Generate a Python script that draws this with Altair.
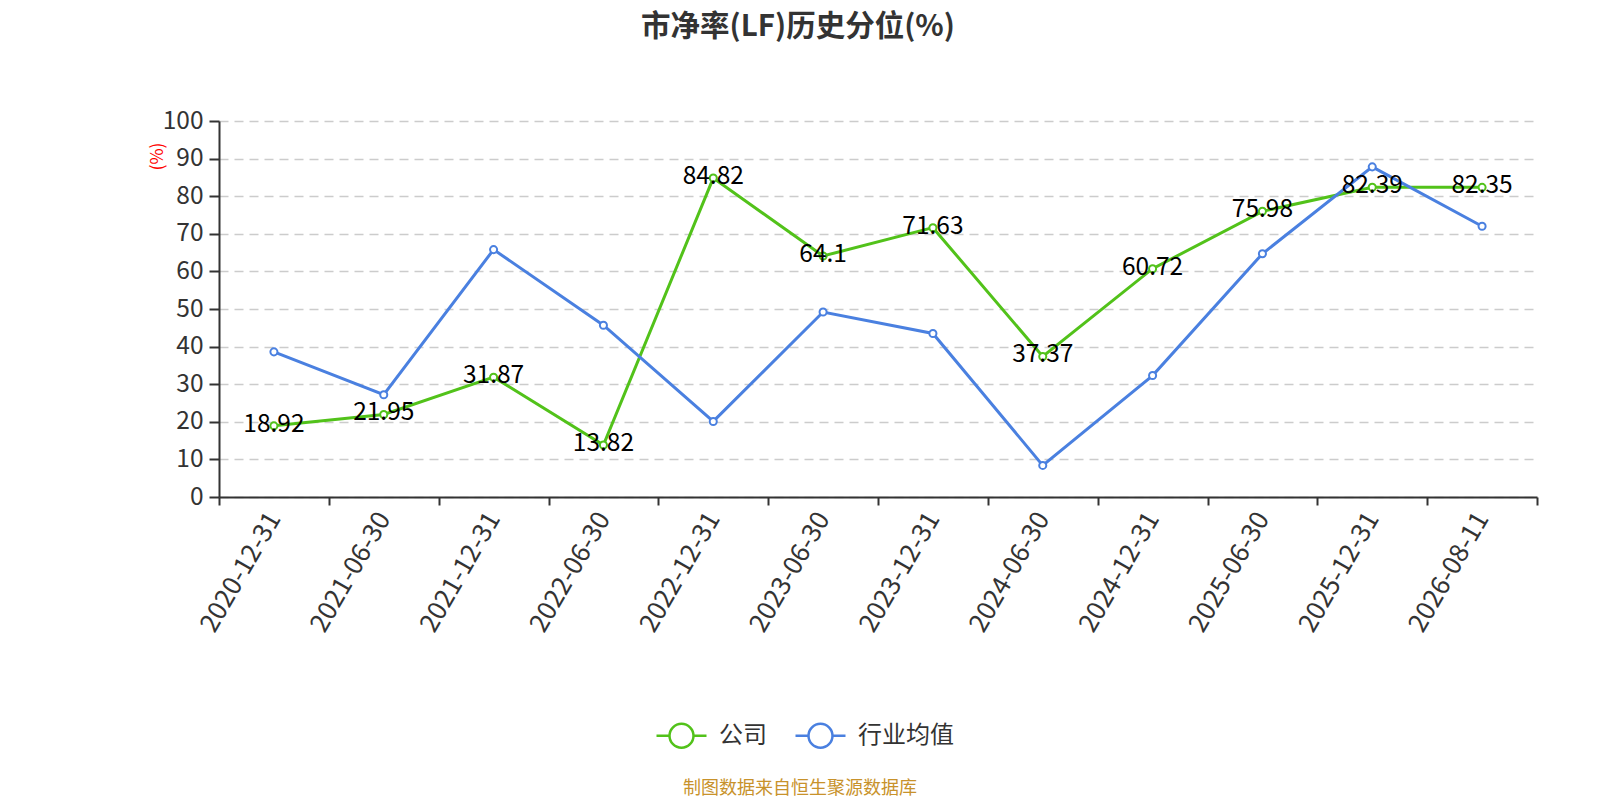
import altair as alt
import pandas as pd

dates = ["2020-12-31", "2021-06-30", "2021-12-31", "2022-06-30", "2022-12-31", "2023-06-30",
         "2023-12-31", "2024-06-30", "2024-12-31", "2025-06-30", "2025-12-31", "2026-08-11"]
company = [18.92, 21.95, 31.87, 13.82, 84.82, 64.1, 71.63, 37.37, 60.72, 75.98, 82.39, 82.35]
industry = [38.6, 27.2, 65.8, 45.7, 20.1, 49.2, 43.5, 8.4, 32.3, 64.7, 87.8, 72.0]
series_names = ["公司", "行业均值"]
series_colors = ["#52C21A", "#4A80E0"]
title_text = "市净率(LF)历史分位(%)"
source_text = "制图数据来自恒生聚源数据库"

FONT = "Noto Sans CJK SC"

df = pd.DataFrame({"date": dates, series_names[0]: company, series_names[1]: industry})
long = df.melt(id_vars="date", var_name="series", value_name="value")
long["label"] = long["value"].map(lambda v: f"{v:g}")

x_axis = alt.Axis(labelAngle=-60, labelAlign="right", labelBaseline="middle",
                  labelFontSize=26, labelColor="#333", labelPadding=9,
                  tickBand="extent", tickSize=8, tickColor="#333", tickWidth=2,
                  domainColor="#333", domainWidth=2, grid=False)
y_axis = alt.Axis(values=list(range(0, 101, 10)), labelFontSize=24.5, labelColor="#333",
                  tickSize=10, tickColor="#333", tickWidth=2, labelPadding=6,
                  domainColor="#333", domainWidth=2, labelOverlap=False,
                  grid=True, gridColor="#cccccc", gridDash=[9, 6], gridWidth=1.5,
                  titleColor="red", titleFontSize=17.5, titleFontWeight="normal",
                  titleAngle=-90, titleX=-62, titleY=35, titleAlign="center",
                  titleBaseline="middle")

x_enc = alt.X("date:O", sort=dates, title=None,
              scale=alt.Scale(type="band", paddingInner=0, paddingOuter=0), axis=x_axis)
y_enc = alt.Y("value:Q", title="(%)", scale=alt.Scale(domain=[0, 100], nice=False), axis=y_axis)
color_enc = alt.Color("series:N",
                      scale=alt.Scale(domain=series_names, range=series_colors),
                      legend=alt.Legend(title=None, orient="none", legendX=436, legendY=588,
                                        direction="horizontal", labelFontSize=24,
                                        labelColor="#333", columnPadding=23, labelOffset=11,
                                        symbolType="M-1,0H-0.48M0.48,0H1M0.48,0A0.48,0.48 0 1 1 -0.48,0A0.48,0.48 0 1 1 0.48,0",
                                        symbolSize=2500, symbolStrokeWidth=2.5,
                                        symbolFillColor="white"))

base = alt.Chart(long)

lines = base.mark_line(strokeWidth=3, point=alt.OverlayMarkDef(filled=False, fill="white",
                                                               size=50, strokeWidth=2)).encode(
    x=x_enc, y=y_enc, color=color_enc
)

labels = base.transform_filter(alt.datum.series == series_names[0]).mark_text(
    fontSize=24.5, color="black", align="center", baseline="middle", dy=-1
).encode(x=x_enc, y=y_enc, text="label:N")

src = alt.Chart(pd.DataFrame({"t": [source_text]})).mark_text(
    fontSize=18, color="#C8922B", align="center", baseline="middle"
).encode(text="t:N", x=alt.value(581), y=alt.value(668))

chart = alt.layer(lines, labels, src).properties(
    width=1318, height=376,
    title=alt.TitleParams(title_text, fontSize=29.5, fontWeight="bold", color="#333",
                          anchor="middle", dx=-80, offset=66, font=FONT),
    autosize=alt.AutoSizeParams(type="none"),
    padding={"left": 211, "top": 113, "right": 20, "bottom": 302},
).configure(font=FONT).configure_view(stroke=None)

chart.save("out.html", embed_options={"renderer": "svg", "actions": False})
